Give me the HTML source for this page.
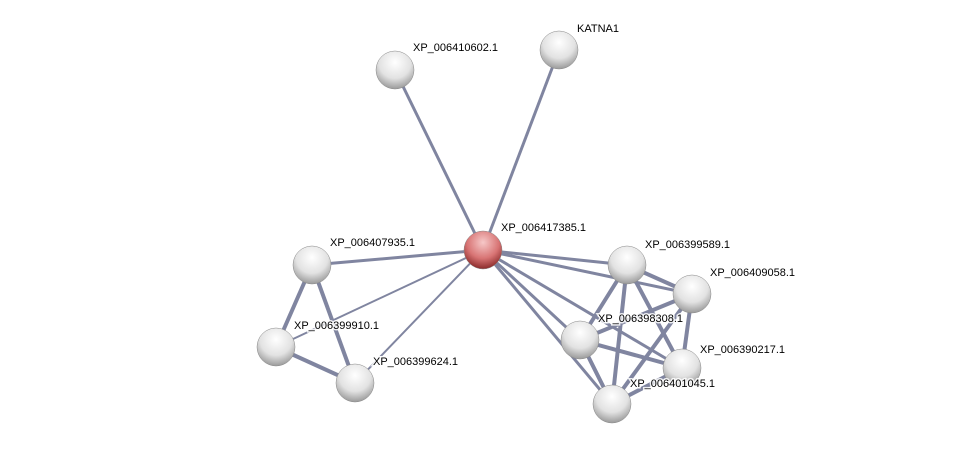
<!DOCTYPE html>
<html><head><meta charset="utf-8"><style>body{margin:0;background:#fff}svg{display:block}text{font-family:"Liberation Sans",sans-serif;font-size:11px;fill:#000;stroke:rgba(255,255,255,0.85);stroke-width:3px;paint-order:stroke}</style></head><body>
<svg width="976" height="451" viewBox="0 0 976 451">
<defs>
<radialGradient id="g" cx="50%" cy="30%" r="70%"><stop offset="0" stop-color="#fff"/><stop offset="0.6" stop-color="#e2e2e2"/><stop offset="1" stop-color="#9a9a9a"/></radialGradient>
<radialGradient id="r" cx="50%" cy="30%" r="70%"><stop offset="0" stop-color="#f6c8c8"/><stop offset="0.6" stop-color="#d87474"/><stop offset="1" stop-color="#8a2a2a"/></radialGradient>
</defs>
<g stroke="#6a7090" stroke-width="3" opacity="0.85">
<line x1="483" y1="250" x2="395" y2="70"/>
<line x1="483" y1="250" x2="559" y2="50"/>
<line x1="483" y1="250" x2="312" y2="265"/>
<line x1="483" y1="250" x2="276" y2="347" stroke-width="2"/>
<line x1="483" y1="250" x2="355" y2="383" stroke-width="2"/>
<line x1="483" y1="250" x2="627" y2="265"/>
<line x1="483" y1="250" x2="692" y2="294"/>
<line x1="483" y1="250" x2="580" y2="340"/>
<line x1="483" y1="250" x2="682" y2="368"/>
<line x1="483" y1="250" x2="612" y2="404"/>
<line x1="312" y1="265" x2="276" y2="347" stroke-width="4"/>
<line x1="312" y1="265" x2="355" y2="383" stroke-width="4"/>
<line x1="276" y1="347" x2="355" y2="383" stroke-width="4"/>
<line x1="627" y1="265" x2="692" y2="294" stroke-width="4"/>
<line x1="627" y1="265" x2="580" y2="340" stroke-width="4"/>
<line x1="627" y1="265" x2="682" y2="368" stroke-width="4"/>
<line x1="627" y1="265" x2="612" y2="404" stroke-width="4"/>
<line x1="692" y1="294" x2="580" y2="340" stroke-width="4"/>
<line x1="692" y1="294" x2="682" y2="368" stroke-width="4"/>
<line x1="692" y1="294" x2="612" y2="404" stroke-width="4"/>
<line x1="580" y1="340" x2="682" y2="368" stroke-width="4"/>
<line x1="580" y1="340" x2="612" y2="404" stroke-width="4"/>
<line x1="682" y1="368" x2="612" y2="404" stroke-width="4"/>
</g>
<g stroke="#888" stroke-width="0.5">
<circle cx="395" cy="70" r="19" fill="url(#g)"/>
<circle cx="559" cy="50" r="19" fill="url(#g)"/>
<circle cx="483" cy="250" r="19" fill="url(#r)"/>
<circle cx="312" cy="265" r="19" fill="url(#g)"/>
<circle cx="276" cy="347" r="19" fill="url(#g)"/>
<circle cx="355" cy="383" r="19" fill="url(#g)"/>
<circle cx="627" cy="265" r="19" fill="url(#g)"/>
<circle cx="692" cy="294" r="19" fill="url(#g)"/>
<circle cx="580" cy="340" r="19" fill="url(#g)"/>
<circle cx="682" cy="368" r="19" fill="url(#g)"/>
<circle cx="612" cy="404" r="19" fill="url(#g)"/>
</g>
<text x="413" y="51">XP_006410602.1</text>
<text x="577" y="32">KATNA1</text>
<text x="501" y="231">XP_006417385.1</text>
<text x="330" y="246">XP_006407935.1</text>
<text x="294" y="329">XP_006399910.1</text>
<text x="373" y="365">XP_006399624.1</text>
<text x="645" y="248">XP_006399589.1</text>
<text x="710" y="276">XP_006409058.1</text>
<text x="598" y="322">XP_006398308.1</text>
<text x="700" y="353">XP_006390217.1</text>
<text x="630" y="387">XP_006401045.1</text>
</svg>
</body></html>
